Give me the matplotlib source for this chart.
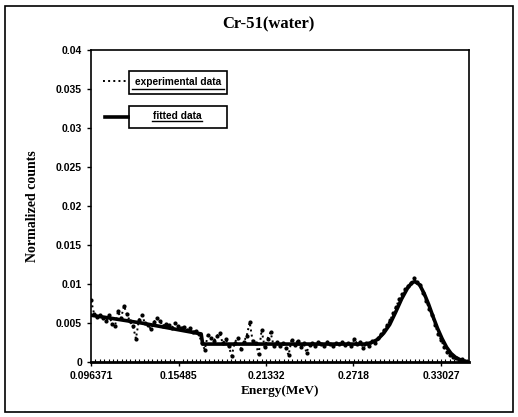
import matplotlib
matplotlib.use("Agg")
import matplotlib.pyplot as plt
from matplotlib.patches import Rectangle
from matplotlib.ticker import AutoMinorLocator

# experimental spectrum
exp_energy = [0.0964, 0.0984, 0.1004, 0.1024, 0.1044, 0.1064, 0.1084, 0.1104, 0.1124, 0.1144,
              0.1164, 0.1184, 0.1204, 0.1224, 0.1244, 0.1264, 0.1284, 0.1304, 0.1324, 0.1344,
              0.1364, 0.1384, 0.1404, 0.1424, 0.1444, 0.1464, 0.1484, 0.1504, 0.1524, 0.1544,
              0.1564, 0.1584, 0.1604, 0.1624, 0.1644, 0.1664, 0.1684, 0.1704, 0.1724, 0.1744,
              0.1764, 0.1784, 0.1804, 0.1824, 0.1844, 0.1864, 0.1884, 0.1904, 0.1924, 0.1944,
              0.1964, 0.1984, 0.2004, 0.2024, 0.2044, 0.2064, 0.2084, 0.2104, 0.2124, 0.2144,
              0.2164, 0.2184, 0.2204, 0.2224, 0.2244, 0.2264, 0.2284, 0.2304, 0.2324, 0.2344,
              0.2364, 0.2384, 0.2404, 0.2424, 0.2444, 0.2464, 0.2484, 0.2504, 0.2524, 0.2544,
              0.2564, 0.2584, 0.2604, 0.2624, 0.2644, 0.2664, 0.2684, 0.2704, 0.2724, 0.2744,
              0.2764, 0.2784, 0.2804, 0.2824, 0.2844, 0.2864, 0.2884, 0.2904, 0.2924, 0.2944,
              0.2964, 0.2984, 0.3004, 0.3024, 0.3044, 0.3064, 0.3084, 0.3104, 0.3124, 0.3144,
              0.3164, 0.3184, 0.3204, 0.3224, 0.3244, 0.3264, 0.3284, 0.3304, 0.3324, 0.3344,
              0.3364, 0.3384, 0.3404, 0.3424, 0.3444, 0.3464, 0.3484]
exp_counts = [0.0079, 0.0062, 0.0058, 0.0060, 0.0057, 0.0052, 0.0060, 0.0049, 0.0046, 0.0065,
              0.0056, 0.0072, 0.0061, 0.0052, 0.0046, 0.0030, 0.0054, 0.0060, 0.0050, 0.0048,
              0.0042, 0.0051, 0.0056, 0.0053, 0.0046, 0.0049, 0.0047, 0.0044, 0.0050, 0.0046,
              0.0043, 0.0045, 0.0041, 0.0043, 0.0038, 0.0040, 0.0036, 0.0024, 0.0016, 0.0034,
              0.0031, 0.0027, 0.0033, 0.0037, 0.0024, 0.0029, 0.0020, 0.0008, 0.0025, 0.0031,
              0.0017, 0.0026, 0.0033, 0.0051, 0.0027, 0.0024, 0.0010, 0.0041, 0.0019, 0.0030,
              0.0038, 0.0021, 0.0026, 0.0020, 0.0024, 0.0018, 0.0009, 0.0028, 0.0022, 0.0027,
              0.0019, 0.0024, 0.0012, 0.0022, 0.0025, 0.0021, 0.0026, 0.0023, 0.0021, 0.0026,
              0.0023, 0.0020, 0.0025, 0.0023, 0.0026, 0.0022, 0.0024, 0.0021, 0.0029, 0.0023,
              0.0026, 0.0018, 0.0024, 0.0020, 0.0027, 0.0025, 0.0031, 0.0036, 0.0041, 0.0047,
              0.0054, 0.0063, 0.0071, 0.0081, 0.0087, 0.0093, 0.0098, 0.0101, 0.0108, 0.0102,
              0.0099, 0.0088, 0.0078, 0.0068, 0.0060, 0.0047, 0.0036, 0.0028, 0.0019, 0.0013,
              0.0009, 0.0006, 0.0005, 0.0003, 0.0004, 0.0001, 0.0000]

# fitted curve
fit_energy = [0.0964, 0.1100, 0.1300, 0.1500, 0.1700, 0.1710, 0.2800, 0.2840, 0.2880, 0.2920,
              0.2960, 0.3000, 0.3040, 0.3080, 0.3110, 0.3130, 0.3160, 0.3190, 0.3220, 0.3250,
              0.3280, 0.3310, 0.3340, 0.3370, 0.3400, 0.3430, 0.3460, 0.3480]
fit_counts = [0.0060, 0.0056, 0.0050, 0.0043, 0.0036, 0.0023, 0.0023, 0.0025, 0.0029, 0.0037,
              0.0048, 0.0064, 0.0081, 0.0095, 0.0102, 0.0103, 0.0099, 0.0088, 0.0074, 0.0058,
              0.0043, 0.0030, 0.0019, 0.0011, 0.0006, 0.0003, 0.0001, 0.0000]

xticks = [0.096371, 0.15485, 0.21332, 0.2718, 0.33027]
xtick_labels = ["0.096371", "0.15485", "0.21332", "0.2718", "0.33027"]
yticks = [0, 0.005, 0.01, 0.015, 0.02, 0.025, 0.03, 0.035, 0.04]
ytick_labels = ["0", "0.005", "0.01", "0.015", "0.02", "0.025", "0.03", "0.035", "0.04"]

fig = plt.figure(figsize=(5.18, 4.17), dpi=100)
ax = fig.add_axes([0.1757, 0.1319, 0.7297, 0.7481])

ax.plot(exp_energy, exp_counts, color="black", linestyle=":", linewidth=1.4,
        marker=".", markersize=4)
ax.plot(fit_energy, fit_counts, color="black", linewidth=2.6)

ax.set_xlim(0.096371, 0.349)
ax.set_ylim(0, 0.04)
ax.set_xticks(xticks)
ax.set_xticklabels(xtick_labels)
ax.set_yticks(yticks)
ax.set_yticklabels(ytick_labels)
ax.xaxis.set_minor_locator(AutoMinorLocator(20))
ax.tick_params(axis="both", which="major", direction="out", length=3, width=1)
ax.tick_params(axis="x", which="minor", direction="in", length=2, width=0.8)
for lab in ax.get_xticklabels() + ax.get_yticklabels():
    lab.set_fontfamily("Liberation Sans")
    lab.set_fontweight("bold")
    lab.set_fontsize(7.5)
for sp in ax.spines.values():
    sp.set_linewidth(1.2)
ax.spines["bottom"].set_linewidth(2)

ax.set_xlabel("Energy(MeV)", fontfamily="Liberation Serif", fontweight="bold", fontsize=9.5, labelpad=3)
ax.set_ylabel("Normalized counts", fontfamily="Liberation Serif", fontweight="bold", fontsize=10, labelpad=12)
fig.text(0.519, 0.942, "Cr-51(water)", ha="center", va="center",
         fontfamily="Liberation Serif", fontweight="bold", fontsize=12)

# hand drawn legend like the original
ax.plot([0.032, 0.095], [0.90, 0.90], transform=ax.transAxes, color="black", linestyle=":", linewidth=1.4)
ax.plot([0.037, 0.098], [0.785, 0.785], transform=ax.transAxes, color="black", linewidth=2.6)
ax.add_patch(Rectangle((0.1005, 0.859), 0.259, 0.074, transform=ax.transAxes,
                       fill=False, edgecolor="black", linewidth=1.2))
ax.add_patch(Rectangle((0.1005, 0.750), 0.259, 0.0705, transform=ax.transAxes,
                       fill=False, edgecolor="black", linewidth=1.2))
ax.text(0.23, 0.899, "experimental data", transform=ax.transAxes, ha="center", va="center",
        fontfamily="Liberation Sans", fontweight="bold", fontsize=7.3)
ax.text(0.228, 0.790, "fitted data", transform=ax.transAxes, ha="center", va="center",
        fontfamily="Liberation Sans", fontweight="bold", fontsize=7.3)
ax.plot([0.108, 0.352], [0.876, 0.876], transform=ax.transAxes, color="black", linewidth=1)
ax.plot([0.161, 0.294], [0.771, 0.771], transform=ax.transAxes, color="black", linewidth=1)

# outer frame around the whole figure
fig.patches.append(Rectangle((5 / 518, 5 / 417), 508 / 518, 406 / 417, transform=fig.transFigure,
                             fill=False, edgecolor="black", linewidth=1.2))

fig.savefig("out.png", dpi=100)
